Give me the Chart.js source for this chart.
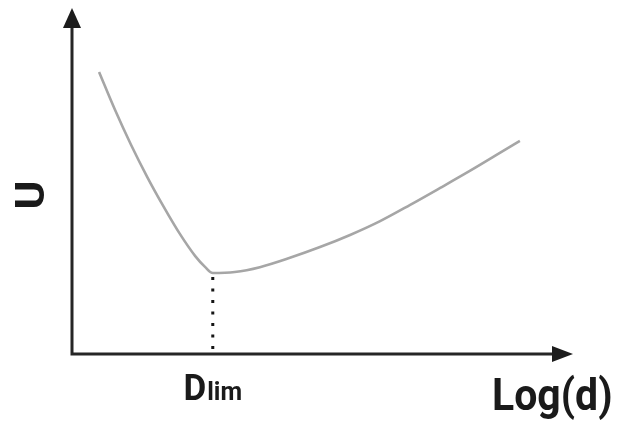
<!DOCTYPE html>
<html>
<head>
<meta charset="utf-8">
<script src="https://cdn.jsdelivr.net/npm/chart.js@4/dist/chart.umd.min.js"></script>
<style>
  html, body { margin: 0; padding: 0; background: #fff; }
  #wrap { width: 619px; height: 424px; }
</style>
</head>
<body>
<div id="wrap"><canvas id="c" width="619" height="424"></canvas></div>
<script>
// Log(d) positions along the horizontal axis (arbitrary units 0..100)
const logD = [5.4, 8.6, 11.8, 15.0, 18.2, 21.4, 24.6, 26.6, 28.1, 32.5, 37.5, 43.5, 49.5, 55.5, 61.5, 67.5, 73.5, 79.4, 85.4, 89.4];
// U values along the curve (arbitrary units 0..100)
const uValues = [81.5, 70.5, 60.4, 51.2, 42.8, 35.0, 28.3, 25.1, 23.4, 23.7, 25.1, 27.8, 30.9, 34.4, 38.4, 43.1, 48.0, 52.9, 58.1, 61.6];
// Axis titles and the marker label at the minimum
const xTitle = 'Log(d)';
const yTitle = 'U';
const markerMain = 'D';
const markerSub = 'lim';

const points = logD.map((x, i) => ({ x, y: uValues[i] }));
const minIndex = uValues.indexOf(Math.min(...uValues));
const FONT = 'Roboto, "Liberation Sans", Arial, sans-serif';

const axesPlugin = {
  id: 'arrowAxes',
  afterDatasetsDraw(chart) {
    const ctx = chart.ctx;
    const xs = chart.scales.x, ys = chart.scales.y;
    const x0 = xs.getPixelForValue(xs.min);
    const x1 = xs.getPixelForValue(xs.max);
    const y0 = ys.getPixelForValue(ys.min);
    const y1 = ys.getPixelForValue(ys.max);
    ctx.save();

    // dotted drop line from the minimum down to the axis
    const mx = xs.getPixelForValue(logD[minIndex]);
    const my = ys.getPixelForValue(uValues[minIndex]);
    ctx.strokeStyle = '#151515';
    ctx.lineWidth = 3;
    ctx.setLineDash([3, 8.5]);
    ctx.beginPath();
    ctx.moveTo(mx, my + 4);
    ctx.lineTo(mx, y0);
    ctx.stroke();
    ctx.setLineDash([]);

    // axes
    ctx.strokeStyle = '#262626';
    ctx.fillStyle = '#1c1c1c';
    ctx.lineWidth = 3;
    ctx.lineCap = 'square';
    ctx.beginPath();
    ctx.moveTo(x0, y1 + 12);
    ctx.lineTo(x0, y0);
    ctx.lineTo(x1 - 12, y0);
    ctx.stroke();

    // arrow heads
    ctx.beginPath();
    ctx.moveTo(x0, y1);
    ctx.lineTo(x0 - 9, y1 + 20);
    ctx.lineTo(x0 + 9, y1 + 20);
    ctx.closePath();
    ctx.fill();
    ctx.beginPath();
    ctx.moveTo(x1, y0);
    ctx.lineTo(x1 - 21, y0 - 8);
    ctx.lineTo(x1 - 21, y0 + 8);
    ctx.closePath();
    ctx.fill();

    // text
    ctx.fillStyle = '#1a1a1a';
    ctx.textBaseline = 'alphabetic';

    // horizontal axis title
    ctx.save();
    ctx.translate(x1 - 81, y0 + 56);
    ctx.scale(1, 1.1);
    ctx.font = 'bold 41px ' + FONT;
    ctx.textAlign = 'left';
    ctx.fillText(xTitle, 0, 0);
    ctx.restore();

    // vertical axis title, rotated
    ctx.save();
    ctx.translate(x0 - 42, (y0 + y1) / 2 + 14);
    ctx.rotate(-Math.PI / 2);
    ctx.scale(1.1, 1);
    ctx.font = 'bold 40px ' + FONT;
    ctx.textAlign = 'center';
    ctx.fillText(yTitle, 0, 14);
    ctx.restore();

    // marker label centred under the drop line
    ctx.font = 'bold 35px ' + FONT;
    const wMain = ctx.measureText(markerMain).width;
    ctx.font = 'bold 25px ' + FONT;
    const wSub = ctx.measureText(markerSub).width;
    const left = mx - (wMain + wSub + 1) / 2;
    ctx.save();
    ctx.translate(left, y0 + 46);
    ctx.scale(1, 1.05);
    ctx.textAlign = 'left';
    ctx.font = 'bold 35px ' + FONT;
    ctx.fillText(markerMain, 0, 0);
    ctx.font = 'bold 25px ' + FONT;
    ctx.fillText(markerSub, wMain + 1, 0);
    ctx.restore();

    ctx.restore();
  }
};

new Chart(document.getElementById('c'), {
  type: 'line',
  data: {
    datasets: [{
      data: points,
      borderColor: '#a6a6a6',
      borderWidth: 2.6,
      pointRadius: 0,
      cubicInterpolationMode: 'monotone',
      fill: false,
      clip: false
    }]
  },
  options: {
    responsive: false,
    animation: false,
    layout: { padding: { left: 72, top: 8, right: 46, bottom: 70 } },
    plugins: { legend: { display: false }, tooltip: { enabled: false } },
    scales: {
      x: { type: 'linear', min: 0, max: 100, display: false },
      y: { type: 'linear', min: 0, max: 100, display: false }
    }
  },
  plugins: [axesPlugin]
});
</script>
</body>
</html>
